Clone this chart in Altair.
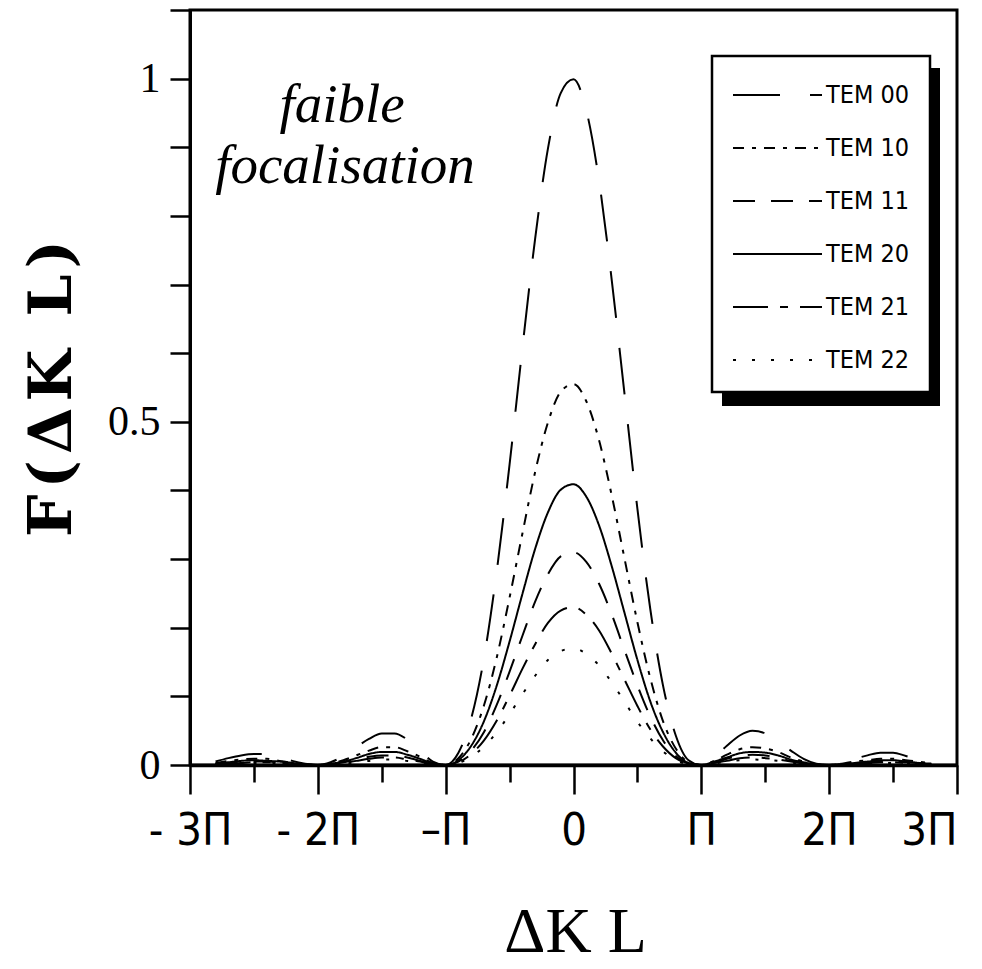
import altair as alt
import pandas as pd

# Phase mismatch ΔK·L, in units of π
dkl = [-2.8, -2.7, -2.6, -2.5, -2.4, -2.3, -2.2, -2.1, -2.0, -1.9,
       -1.8, -1.7, -1.6, -1.5, -1.4, -1.3, -1.2, -1.1, -1.0, -0.9,
       -0.8, -0.7, -0.6, -0.5, -0.4, -0.3, -0.2, -0.1, 0.0, 0.1,
       0.2, 0.3, 0.4, 0.5, 0.6, 0.7, 0.8, 0.9, 1.0, 1.1,
       1.2, 1.3, 1.4, 1.5, 1.6, 1.7, 1.8, 1.9, 2.0, 2.1,
       2.2, 2.3, 2.4, 2.5, 2.6, 2.7, 2.8]

tem00 = [0.005, 0.010, 0.014, 0.016, 0.016, 0.012, 0.006, 0.002, 0.000, 0.004,
         0.013, 0.026, 0.038, 0.046, 0.046, 0.037, 0.021, 0.005, 0.000, 0.018,
         0.068, 0.156, 0.283, 0.438, 0.607, 0.767, 0.898, 0.979, 0.999, 0.954,
         0.851, 0.705, 0.539, 0.373, 0.228, 0.116, 0.043, 0.007, 0.000, 0.011,
         0.028, 0.043, 0.050, 0.046, 0.034, 0.021, 0.009, 0.002, 0.000, 0.003,
         0.009, 0.014, 0.018, 0.018, 0.013, 0.008, 0.004]

tem10 = [0.003, 0.006, 0.008, 0.009, 0.009, 0.006, 0.003, 0.001, 0.000, 0.002,
         0.007, 0.014, 0.021, 0.026, 0.026, 0.020, 0.012, 0.003, 0.000, 0.010,
         0.038, 0.087, 0.157, 0.244, 0.337, 0.427, 0.499, 0.544, 0.555, 0.530,
         0.473, 0.392, 0.300, 0.208, 0.127, 0.064, 0.024, 0.004, 0.000, 0.006,
         0.015, 0.023, 0.026, 0.024, 0.019, 0.011, 0.005, 0.001, 0.000, 0.002,
         0.005, 0.007, 0.009, 0.009, 0.007, 0.005, 0.002]

tem11 = [0.002, 0.003, 0.004, 0.005, 0.005, 0.004, 0.002, 0.000, 0.000, 0.001,
         0.004, 0.008, 0.012, 0.014, 0.014, 0.011, 0.006, 0.002, 0.000, 0.005,
         0.021, 0.048, 0.088, 0.136, 0.188, 0.238, 0.278, 0.304, 0.310, 0.296,
         0.264, 0.219, 0.167, 0.116, 0.071, 0.036, 0.013, 0.002, 0.000, 0.003,
         0.009, 0.013, 0.015, 0.014, 0.010, 0.006, 0.003, 0.001, 0.000, 0.001,
         0.003, 0.004, 0.005, 0.005, 0.004, 0.003, 0.001]

tem20 = [0.002, 0.004, 0.006, 0.007, 0.006, 0.005, 0.003, 0.001, 0.000, 0.002,
         0.005, 0.010, 0.016, 0.019, 0.019, 0.015, 0.009, 0.002, 0.000, 0.007,
         0.028, 0.064, 0.116, 0.180, 0.249, 0.315, 0.368, 0.401, 0.409, 0.391,
         0.349, 0.289, 0.221, 0.153, 0.093, 0.048, 0.018, 0.003, 0.000, 0.005,
         0.011, 0.017, 0.019, 0.018, 0.014, 0.008, 0.004, 0.001, 0.000, 0.001,
         0.003, 0.005, 0.007, 0.007, 0.005, 0.003, 0.002]

tem21 = [0.001, 0.002, 0.003, 0.004, 0.004, 0.003, 0.001, 0.000, 0.000, 0.001,
         0.003, 0.006, 0.009, 0.011, 0.011, 0.008, 0.005, 0.001, 0.000, 0.004,
         0.016, 0.036, 0.065, 0.101, 0.140, 0.176, 0.207, 0.225, 0.230, 0.219,
         0.196, 0.162, 0.124, 0.086, 0.052, 0.027, 0.010, 0.002, 0.000, 0.003,
         0.006, 0.010, 0.011, 0.010, 0.008, 0.005, 0.002, 0.000, 0.000, 0.001,
         0.002, 0.003, 0.004, 0.004, 0.003, 0.002, 0.001]

tem22 = [0.001, 0.002, 0.002, 0.003, 0.003, 0.002, 0.001, 0.000, 0.000, 0.001,
         0.002, 0.004, 0.006, 0.008, 0.008, 0.006, 0.004, 0.001, 0.000, 0.003,
         0.012, 0.027, 0.048, 0.074, 0.103, 0.130, 0.153, 0.166, 0.170, 0.162,
         0.145, 0.120, 0.092, 0.063, 0.039, 0.020, 0.007, 0.001, 0.000, 0.002,
         0.005, 0.007, 0.008, 0.007, 0.006, 0.003, 0.001, 0.000, 0.000, 0.001,
         0.001, 0.002, 0.003, 0.003, 0.002, 0.001, 0.001]

series_names = ["TEM 00", "TEM 10", "TEM 11", "TEM 20", "TEM 21", "TEM 22"]
series_values = [tem00, tem10, tem11, tem20, tem21, tem22]

x_ticks = [-3, -2.5, -2, -1.5, -1, -0.5, 0, 0.5, 1, 1.5, 2, 2.5, 3]
y_ticks = [0, 0.1, 0.2, 0.3, 0.4, 0.5, 0.6, 0.7, 0.8, 0.9, 1.0, 1.1]

rows = []
for name, vals in zip(series_names, series_values):
    for xv, yv in zip(dkl, vals):
        rows.append({"dkl": xv, "F": yv, "series": name})
df = pd.DataFrame(rows)

SERIF = "Liberation Serif, DejaVu Serif, serif"
NARROW = "Liberation Sans Narrow, Arial Narrow, DejaVu Sans Condensed, Liberation Sans, sans-serif"

# one dash pattern per mode
dash_scale = alt.Scale(
    domain=series_names,
    range=[[47, 30], [11, 8, 4, 8], [22, 16], [1, 0], [35, 12, 8, 12], [3, 16]],
)

x_label_expr = (
    "datum.value == -3 ? '- 3Π' : datum.value == -2 ? '- 2Π' : "
    "datum.value == -1 ? '–Π' : datum.value == 0 ? '0' : "
    "datum.value == 1 ? 'Π' : datum.value == 2 ? '2Π' : "
    "datum.value == 3 ? '3Π' : ''"
)
y_label_expr = (
    "abs(datum.value) < 0.001 ? '0' : abs(datum.value - 0.5) < 0.001 ? '0.5' : "
    "abs(datum.value - 1) < 0.001 ? '1' : ''"
)

x_axis = alt.Axis(
    values=x_ticks, labelExpr=x_label_expr, grid=False,
    tickSize={"condition": {"test": "datum.value % 1 === 0", "value": 29}, "value": 17},
    tickWidth=2.5, tickColor="black", domainWidth=3.5, domainColor="black",
    labelFont=NARROW, labelFontSize=45, labelColor="black", labelPadding=14,
    labelAlign={"condition": {"test": "datum.value >= 3", "value": "right"}, "value": "center"},
    labelFlush=False, labelOverlap=False,
    title="ΔK L", titleFont=SERIF, titleFontSize=64, titleFontWeight="normal",
    titleColor="black", titleX=385, titleY=186, titleBaseline="alphabetic",
    titleAlign="center",
)
y_axis = alt.Axis(
    values=y_ticks, labelExpr=y_label_expr, grid=False,
    tickSize=20, tickWidth=2.5, tickColor="black", domainWidth=3, domainColor="black",
    labelFont=SERIF, labelFontSize=42, labelColor="black", labelPadding=10,
    title="F\u200a(\u200aΔ\u200aK\u200a \u200aL\u200a)",
    titleFont="DejaVu Serif, Liberation Serif, serif",
    titleFontSize=60, titleFontWeight="bold", titleColor="black",
    titleX=-120, titleY=378, titleAngle=270, titleBaseline="alphabetic",
    titleAlign="center",
)

curves = alt.Chart(df).mark_line(color="black", strokeWidth=2, interpolate="monotone").encode(
    x=alt.X("dkl:Q", scale=alt.Scale(domain=[-3, 3], nice=False, zero=False), axis=x_axis),
    y=alt.Y("F:Q", scale=alt.Scale(domain=[0, 1.1], nice=False), axis=y_axis),
    strokeDash=alt.StrokeDash("series:N", scale=dash_scale, legend=None),
)

one = pd.DataFrame({"k": [0]})

annot_1 = alt.Chart(one).mark_text(
    text="faible", font=SERIF, fontSize=55, fontStyle="italic", align="center",
    baseline="alphabetic", color="black",
).encode(x=alt.value(152), y=alt.value(112))
annot_2 = alt.Chart(one).mark_text(
    text="focalisation", font=SERIF, fontSize=55, fontStyle="italic", align="center",
    baseline="alphabetic", color="black",
).encode(x=alt.value(155), y=alt.value(173))

# legend box with drop shadow
shadow = alt.Chart(one).mark_rect(color="black").encode(
    x=alt.value(532), x2=alt.value(750), y=alt.value(58), y2=alt.value(396)
)
box = alt.Chart(one).mark_rect(fill="white", stroke="black", strokeWidth=2.5).encode(
    x=alt.value(522), x2=alt.value(740), y=alt.value(46), y2=alt.value(382)
)

leg_df = pd.DataFrame({"series": series_names})
leg_y = alt.Y("series:N", scale=alt.Scale(type="point", domain=series_names,
                                           range=[85, 350], padding=0), axis=None)
leg_lines = alt.Chart(leg_df).mark_rule(color="black", strokeWidth=2).encode(
    y=leg_y, x=alt.value(543), x2=alt.value(632),
    strokeDash=alt.StrokeDash("series:N", scale=dash_scale, legend=None),
)
leg_text = alt.Chart(leg_df).mark_text(
    align="left", baseline="middle", font=NARROW, fontSize=25, color="black"
).encode(y=leg_y, x=alt.value(636), text="series:N")

chart = alt.layer(
    curves, annot_1, annot_2, shadow, box, leg_lines, leg_text
).resolve_scale(y="independent").properties(
    width=767, height=755,
    padding={"left": 190, "top": 10, "right": 25, "bottom": 204},
    autosize=alt.AutoSizeParams(type="none"),
).configure(background="white").configure_view(stroke="black", strokeWidth=3)

chart.save("out.html", embed_options={"renderer": "svg", "actions": False})
